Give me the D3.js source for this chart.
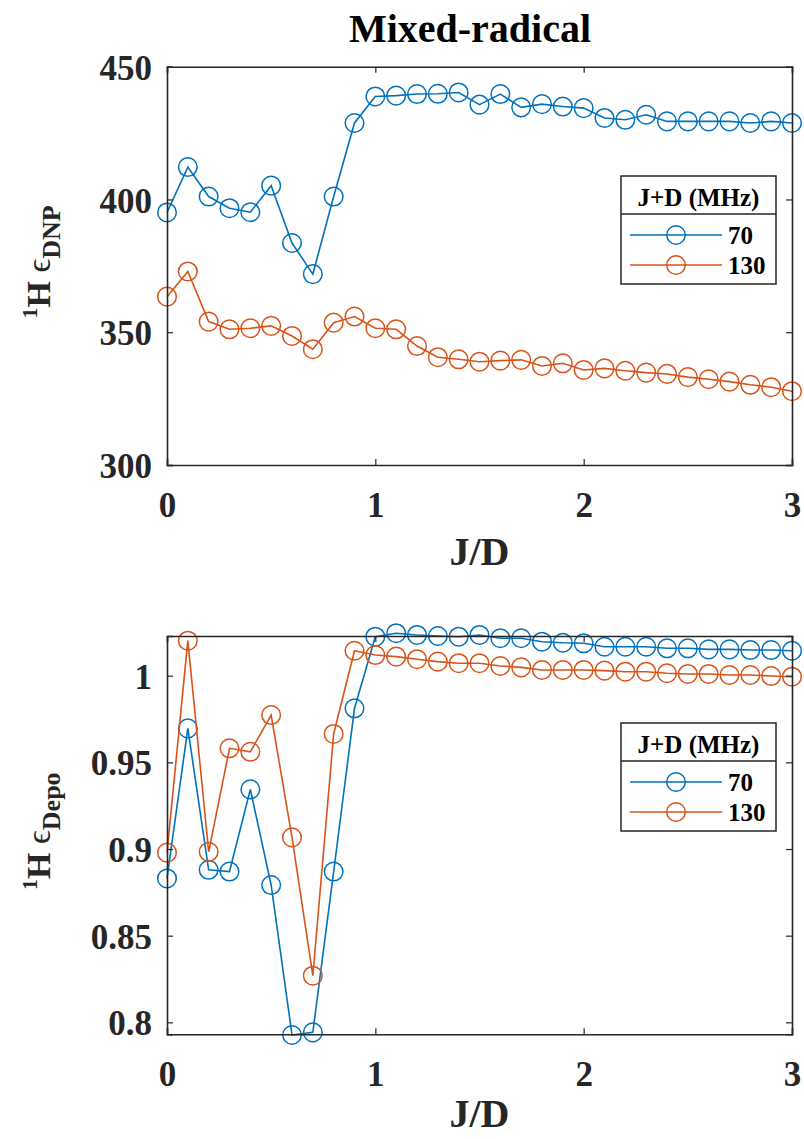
<!DOCTYPE html>
<html><head><meta charset="utf-8">
<script src="https://cdn.jsdelivr.net/npm/d3@7"></script>
<style>
html,body{margin:0;padding:0;background:#fff;}
svg{display:block;font-family:"Liberation Serif","Times New Roman",serif;}
</style></head>
<body>
<svg id="chart" width="804" height="1139"></svg>
<script>
// ---------- data ----------
const jd = [0,0.1,0.2,0.3,0.4,0.5,0.6,0.7,0.8,0.9,1.0,1.1,1.2,1.3,1.4,1.5,1.6,1.7,1.8,1.9,2.0,2.1,2.2,2.3,2.4,2.5,2.6,2.7,2.8,2.9,3.0];
const seriesNames = ["70","130"];
const dnp70  = [395.1,412.2,401.1,396.7,395.2,405.2,383.6,371.9,401.1,428.8,438.8,439.1,439.7,439.8,440.3,435.7,439.7,434.7,435.9,435.0,434.4,430.7,430.0,431.9,429.4,429.4,429.4,429.4,428.8,429.4,428.8];
const dnp130 = [363.4,372.9,354.0,351.1,351.5,352.4,348.6,343.6,353.6,355.9,351.5,351.1,344.8,340.6,339.8,338.9,339.3,339.6,337.3,338.3,335.8,336.4,335.5,334.8,334.3,333.1,332.3,331.4,330.2,329.3,327.8];
const depo70  = [0.883,0.9696,0.888,0.887,0.9344,0.8792,0.7927,0.7942,0.887,0.9812,1.0225,1.0245,1.0235,1.0229,1.0225,1.0235,1.0216,1.0216,1.0196,1.019,1.0187,1.0167,1.0167,1.0167,1.0158,1.0158,1.0152,1.0152,1.0148,1.0148,1.0144];
const depo130 = [0.8979,1.0202,0.8984,0.9581,0.9561,0.9773,0.9067,0.8269,0.9664,1.0144,1.0119,1.011,1.0095,1.0081,1.0072,1.0072,1.0056,1.0048,1.0033,1.0033,1.0033,1.0029,1.0023,1.0023,1.0014,1.001,1.001,1.0004,1.0004,0.9998,0.9994];
const xTicks = [0,1,2,3];
const dnpTicks = [300,350,400,450];
const depoTicks = [0.8,0.85,0.9,0.95,1];
const dnpDomain = [300,450];
const depoDomain = [0.7931,1.0229];
const titleText = "Mixed-radical";
const xLabel = "J/D";
const legendTitle = "J+D (MHz)";

// ---------- style ----------
const colors = ["#0072BD","#D95319"];
const axisColor = "#262626";
const svg = d3.select("#chart");

const L = 167, R = 792;
function panel(top, bottom, domain, ticks, s1, s2, ylabSub, legTop, tickFmt, xlabOff){
  const x = d3.scaleLinear().domain([0,3]).range([L,R]);
  const y = d3.scaleLinear().domain(domain).range([bottom,top]);
  const g = svg.append("g");
  [s1,s2].forEach((vals,k)=>{
    const pts = jd.map((v,i)=>[v,vals[i]]);
    g.append("path").datum(pts)
      .attr("fill","none").attr("stroke",colors[k]).attr("stroke-width",1.6)
      .attr("d", d3.line().x(d=>x(d[0])).y(d=>y(d[1])));
    g.selectAll(null).data(pts).enter().append("circle")
      .attr("cx",d=>x(d[0])).attr("cy",d=>y(d[1])).attr("r",9.3)
      .attr("fill","none").attr("stroke",colors[k]).attr("stroke-width",1.5);
  });
  const tl = 6;
  const ax = svg.append("g");
  const bAx = d3.axisBottom(x).tickValues(xTicks).tickSize(-tl).tickFormat(d3.format("d"));
  const tAx = d3.axisTop(x).tickValues(xTicks).tickSize(-tl).tickFormat("");
  const lAx = d3.axisLeft(y).tickValues(ticks).tickSize(-tl).tickFormat(tickFmt);
  const rAx = d3.axisRight(y).tickValues(ticks).tickSize(-tl).tickFormat("");
  const gb = ax.append("g").attr("transform",`translate(0,${bottom})`).call(bAx);
  const gt = ax.append("g").attr("transform",`translate(0,${top})`).call(tAx);
  const gl = ax.append("g").attr("transform",`translate(${L},0)`).call(lAx);
  const gr = ax.append("g").attr("transform",`translate(${R},0)`).call(rAx);
  [gb,gt,gl,gr].forEach(a=>{
    a.select(".domain").attr("stroke",axisColor).attr("stroke-width",1.6);
    a.selectAll(".tick line").attr("stroke",axisColor).attr("stroke-width",1.2);
    a.selectAll("text").attr("font-family","Liberation Serif, Times New Roman, serif")
      .attr("font-weight","bold").attr("font-size",35).attr("fill","#262626");
  });
  gb.selectAll(".tick text").attr("dy",null).attr("y",52).attr("dominant-baseline","auto");
  gl.selectAll(".tick text").attr("x",-15).attr("dy","0.36em");
  svg.append("text").attr("x",(L+R)/2).attr("y",bottom+xlabOff).attr("text-anchor","middle")
    .attr("font-weight","bold").attr("font-size",40).attr("fill","#262626").text(xLabel);
  const cy = (top+bottom)/2 - 4;
  const yl = svg.append("text").attr("transform",`translate(50,${cy}) rotate(-90)`)
    .attr("text-anchor","middle").attr("font-size",34).attr("font-weight","bold").attr("fill","#262626");
  yl.append("tspan").attr("font-size",22).attr("baseline-shift","60%").text("1");
  yl.append("tspan").text("H ");
  yl.append("tspan").attr("font-weight","normal").text("\u03F5");
  yl.append("tspan").attr("font-size",26).attr("baseline-shift","-40%").text(ylabSub);
  const lx0 = 621, lx1 = 776, lw = lx1-lx0;
  const lg = svg.append("g");
  lg.append("rect").attr("x",lx0).attr("y",legTop).attr("width",lw).attr("height",108)
    .attr("fill","#fff").attr("stroke","#262626").attr("stroke-width",1.5);
  lg.append("line").attr("x1",lx0).attr("x2",lx1).attr("y1",legTop+38).attr("y2",legTop+38)
    .attr("stroke","#262626").attr("stroke-width",1.5);
  lg.append("text").attr("x",(lx0+lx1)/2).attr("y",legTop+21).attr("dy","0.35em")
    .attr("text-anchor","middle").attr("font-weight","bold").attr("font-size",25).attr("fill","#000").text(legendTitle);
  seriesNames.forEach((n,k)=>{
    const yy = legTop + 59 + k*30;
    lg.append("line").attr("x1",630).attr("x2",722).attr("y1",yy).attr("y2",yy)
      .attr("stroke",colors[k]).attr("stroke-width",1.6);
    lg.append("circle").attr("cx",676).attr("cy",yy).attr("r",9.3)
      .attr("fill","none").attr("stroke",colors[k]).attr("stroke-width",1.5);
    lg.append("text").attr("x",728).attr("y",yy).attr("dy","0.35em")
      .attr("font-weight","bold").attr("font-size",25).attr("fill","#000").text(n);
  });
}

panel(66.7, 465, dnpDomain, dnpTicks, dnp70, dnp130, "DNP", 176, d3.format("d"), 100);
panel(636, 1034.3, depoDomain, depoTicks, depo70, depo130, "Depo", 723, d=>String(+d.toFixed(2)), 93);

svg.append("text").attr("x",470).attr("y",42).attr("text-anchor","middle")
  .attr("font-weight","bold").attr("font-size",40).attr("fill","#000").text(titleText);
</script>
</body></html>
